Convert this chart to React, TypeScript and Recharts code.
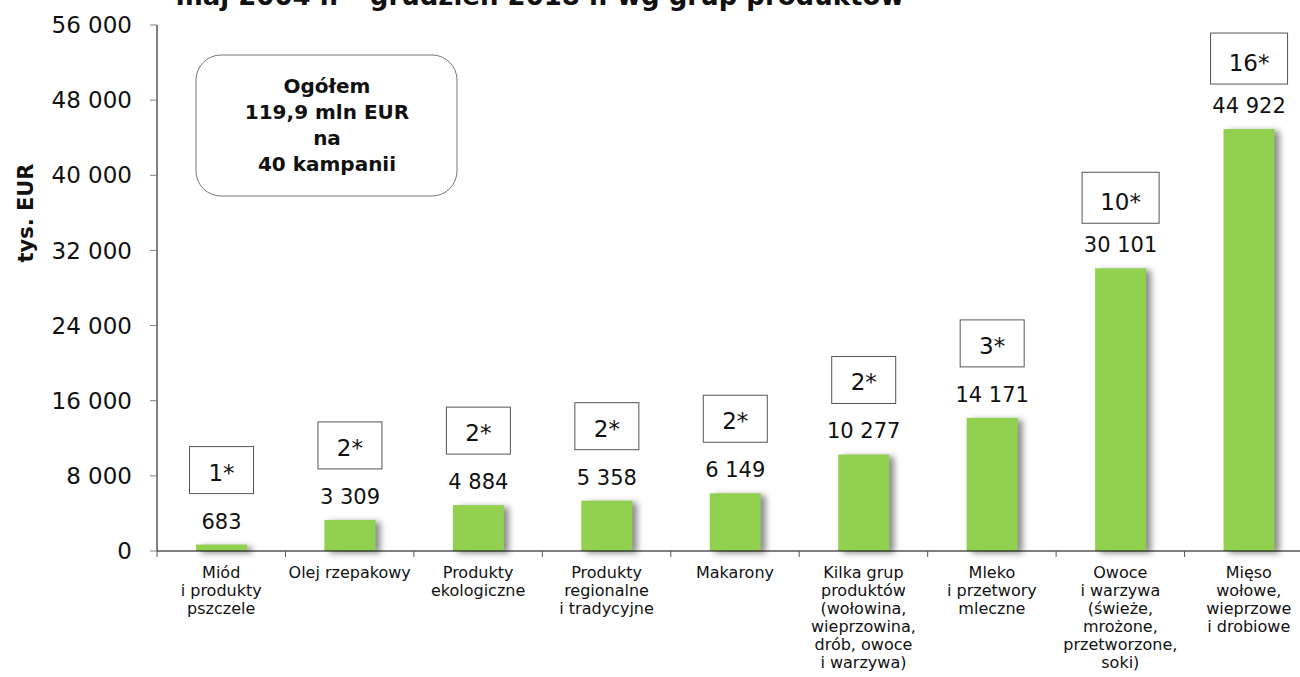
import { Bar, BarChart, LabelList, XAxis, YAxis } from "recharts";

const FONT = "'DejaVu Sans', Verdana, sans-serif";

const categories = [
  "Miód\ni produkty\npszczele",
  "Olej rzepakowy",
  "Produkty\nekologiczne",
  "Produkty\nregionalne\ni tradycyjne",
  "Makarony",
  "Kilka grup\nproduktów\n(wołowina,\nwieprzowina,\ndrób, owoce\ni warzywa)",
  "Mleko\ni przetwory\nmleczne",
  "Owoce\ni warzywa\n(świeże,\nmrożone,\nprzetworzone,\nsoki)",
  "Mięso\nwołowe,\nwieprzowe\ni drobiowe",
];
const amounts = [683, 3309, 4884, 5358, 6149, 10277, 14171, 30101, 44922];
const campaigns = [1, 2, 2, 2, 2, 2, 3, 10, 16];
const yTicks = [0, 8000, 16000, 24000, 32000, 40000, 48000, 56000];

const titleText = "maj 2004 r. – grudzień 2018 r. wg grup produktów";
const totalLines = ["Ogółem", "119,9 mln EUR", "na", "40 kampanii"];

const data = categories.map((name, i) => ({
  name,
  amount: amounts[i],
  campaigns: campaigns[i],
}));

const fmt = (v: number) => String(v).replace(/\B(?=(\d{3})+(?!\d))/g, " ");

function CategoryTick(props: any) {
  const { x, y, payload, index } = props;
  const half = payload?.offset ?? 0;
  const lines = String(payload.value).split("\n");
  const axisY = y - 8;
  return (
    <g>
      <line x1={x - half} x2={x - half} y1={axisY} y2={axisY + 6} stroke="#555" />
      {index === categories.length - 1 && (
        <line x1={x + half} x2={x + half} y1={axisY} y2={axisY + 6} stroke="#555" />
      )}
      <text x={x} y={y + 19} textAnchor="middle" fontSize={16} fontFamily={FONT} fill="#111">
        {lines.map((l, i) => (
          <tspan key={i} x={x} dy={i === 0 ? 0 : 18}>
            {l}
          </tspan>
        ))}
      </text>
    </g>
  );
}

function BarLabels(props: any) {
  const { x, y, width, value, index } = props;
  const cx = x + width / 2;
  const n = String(campaigns[index]) + "*";
  const double = n.length > 2;
  const bw = double ? 77 : 64;
  const bh = double ? 51 : 47;
  const bottom = y - (double ? 45 : 51);
  return (
    <g>
      <text x={cx} y={y - 16} textAnchor="middle" fontSize={21} fontFamily={FONT} fill="#111">
        {fmt(value)}
      </text>
      <rect x={cx - bw / 2} y={bottom - bh} width={bw} height={bh} fill="#fff" stroke="#555" />
      <text x={cx} y={bottom - 13} textAnchor="middle" fontSize={23} fontFamily={FONT} fill="#111">
        {n}
      </text>
    </g>
  );
}

function ShadowBar(props: any) {
  const { x, y, width, height, fill } = props;
  if (!height || height <= 0) return null;
  return (
    <rect
      x={x}
      y={y}
      width={width}
      height={height}
      fill={fill}
      style={{ filter: "drop-shadow(5px 2px 3px rgba(0,0,0,0.45))" }}
    />
  );
}

export default function App() {
  return (
    <div
      style={{
        position: "fixed",
        left: 0,
        top: 0,
        width: 1300,
        height: 677,
        overflow: "hidden",
        background: "#fff",
      }}
    >
      <div style={{ position: "absolute", left: 0, top: 0 }}>
        <BarChart
          width={1320}
          height={677}
          data={data}
          margin={{ top: 25, right: 7, bottom: 0, left: 0 }}
        >
          <XAxis
            dataKey="name"
            interval={0}
            height={126}
            tickLine={false}
            tickSize={6}
            tickMargin={2}
            axisLine={{ stroke: "#000" }}
            tick={<CategoryTick />}
          />
          <YAxis
            width={157}
            domain={[0, 56000]}
            ticks={yTicks}
            interval={0}
            tickFormatter={fmt}
            tickSize={7}
            tickMargin={18}
            axisLine={{ stroke: "#000" }}
            tickLine={{ stroke: "#808080" }}
            tick={{ fill: "#111", fontSize: 23, fontFamily: FONT }}
          />
          <Bar
            dataKey="amount"
            fill="#92D050"
            barSize={51}
            shape={<ShadowBar />}
            isAnimationActive={false}
          >
            <LabelList dataKey="amount" content={<BarLabels />} />
          </Bar>
        </BarChart>
      </div>
      <svg
        width={1300}
        height={677}
        style={{ position: "absolute", left: 0, top: 0, pointerEvents: "none" }}
      >
        <text x={540} y={5} textAnchor="middle" fontSize={26} fontWeight="bold" fontFamily={FONT} fill="#111">
          {titleText}
        </text>
        <text
          transform="translate(33,213) rotate(-90)"
          textAnchor="middle"
          fontSize={21}
          fontWeight="bold"
          fontFamily={FONT}
          fill="#111"
        >
          tys. EUR
        </text>
        <rect x={196} y={55} width={261} height={141} rx={25} ry={25} fill="#fff" stroke="#777" />
        {totalLines.map((l, i) => (
          <text
            key={i}
            x={327}
            y={93 + i * 26}
            textAnchor="middle"
            fontSize={20}
            fontWeight="bold"
            fontFamily={FONT}
            fill="#111"
          >
            {l}
          </text>
        ))}
      </svg>
    </div>
  );
}
